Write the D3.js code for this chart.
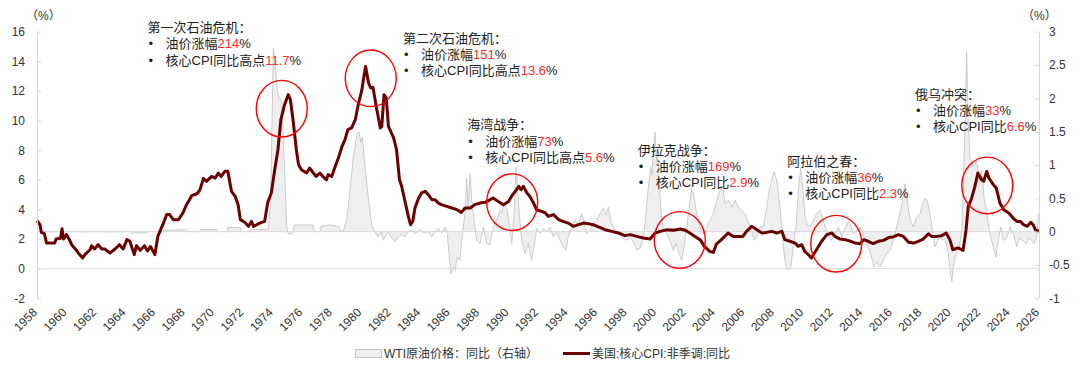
<!DOCTYPE html>
<html><head><meta charset="utf-8">
<script src="https://cdn.jsdelivr.net/npm/d3@7"></script>
<style>
body{margin:0;background:#fff;}
svg{display:block;font-family:"Liberation Sans",Arial,"Noto Sans CJK SC",sans-serif;}
</style></head><body>
<svg id="chart" width="1080" height="369"></svg>
<script>
// ---------------- data ----------------
const xTickYears = d3.range(1958, 2027, 2);
const leftTicks = [-2, 0, 2, 4, 6, 8, 10, 12, 14, 16];
const rightTicks = [-1, -0.5, 0, 0.5, 1, 1.5, 2, 2.5, 3];

// 美国:核心CPI:非季调:同比 (%), [year, value]
const coreCPI = [
[1958.0,3.24],[1958.2,2.97],[1958.3,2.45],[1958.5,2.36],[1958.65,1.73],[1959.2,1.73],[1959.3,2.0],[1959.6,2.05],[1959.7,2.7],[1959.8,2.0],
[1960.0,2.3],[1960.2,1.96],[1960.35,1.62],[1960.6,1.33],[1960.8,1.06],[1961.1,0.72],[1961.25,0.95],[1961.6,1.28],[1961.7,1.55],[1961.9,1.33],
[1962.15,1.62],[1962.4,1.33],[1962.6,1.33],[1962.95,1.06],[1963.3,1.33],[1963.6,1.62],[1963.85,1.33],[1964.1,1.96],[1964.3,1.85],[1964.6,0.95],
[1964.75,1.55],[1965.0,1.24],[1965.3,1.55],[1965.5,1.2],[1965.7,1.5],[1966.0,0.95],[1966.2,2.18],[1966.6,3.13],[1966.8,3.65],[1967.0,3.65],
[1967.25,3.31],[1967.6,3.31],[1967.9,3.76],[1968.15,4.32],[1968.5,4.93],[1968.85,5.06],[1969.05,5.3],[1969.3,6.1],[1969.5,5.9],[1969.85,6.23],
[1970.1,6.12],[1970.3,6.46],[1970.5,6.23],[1970.75,6.57],[1970.95,6.57],[1971.2,5.22],[1971.45,4.88],[1971.65,4.32],[1971.8,3.31],[1972.1,3.13],
[1972.35,2.86],[1972.55,3.19],[1972.7,2.86],[1973.0,3.02],[1973.25,3.13],[1973.45,3.19],[1973.65,4.43],[1973.9,5.11],[1974.1,6.46],[1974.35,8.03],
[1974.55,10.06],[1974.8,11.07],[1975.05,11.75],[1975.2,11.4],[1975.4,9.84],[1975.6,8.03],[1975.75,7.02],[1975.95,6.68],[1976.3,6.46],[1976.5,6.8],
[1976.75,6.46],[1976.95,6.23],[1977.2,6.46],[1977.4,6.23],[1977.65,6.0],[1977.75,6.35],[1978.0,6.23],[1978.2,6.8],[1978.45,7.47],[1978.7,8.26],
[1978.9,8.71],[1979.1,9.39],[1979.35,9.5],[1979.6,10.06],[1979.8,11.07],[1980.05,12.09],[1980.15,12.76],[1980.3,13.66],[1980.5,12.54],[1980.65,12.2],
[1980.8,12.25],[1981.05,10.8],[1981.3,9.5],[1981.4,9.61],[1981.55,11.75],[1981.7,11.53],[1981.85,9.61],[1982.2,8.83],[1982.4,8.03],[1982.6,6.0],
[1982.75,5.56],[1983.0,4.43],[1983.2,3.53],[1983.35,2.97],[1983.5,3.19],[1983.65,4.1],[1983.9,4.77],[1984.1,5.11],[1984.35,5.22],[1984.55,5.0],
[1984.8,4.66],[1985.0,4.66],[1985.25,4.43],[1985.45,4.32],[1985.8,4.21],[1986.15,4.1],[1986.5,3.98],[1986.8,3.8],[1987.05,4.1],[1987.4,4.1],
[1987.7,4.32],[1988.05,4.43],[1988.4,4.48],[1988.75,4.66],[1988.95,4.77],[1989.3,4.54],[1989.65,4.32],[1990.0,4.54],[1990.2,4.88],[1990.45,5.22],
[1990.7,5.56],[1990.85,5.33],[1991.0,5.56],[1991.25,5.11],[1991.45,4.88],[1991.7,4.43],[1991.9,3.98],[1992.25,3.87],[1992.5,3.76],[1992.7,3.53],
[1993.05,3.65],[1993.4,3.31],[1993.7,3.19],[1994.05,3.08],[1994.4,2.86],[1994.75,2.97],[1995.1,3.08],[1995.4,3.04],[1995.75,2.97],[1996.1,2.82],
[1996.55,2.63],[1997.0,2.52],[1997.45,2.41],[1997.9,2.23],[1998.25,2.3],[1998.7,2.18],[1999.15,2.07],[1999.6,2.0],[1999.95,2.41],[2000.3,2.52],
[2000.75,2.63],[2001.2,2.59],[2001.65,2.68],[2002.0,2.59],[2002.3,2.41],[2002.65,2.18],[2003.0,1.96],[2003.3,1.51],[2003.65,1.17],[2003.9,1.1],
[2004.1,1.65],[2004.45,1.96],[2004.9,2.41],[2005.25,2.18],[2005.6,2.18],[2005.9,2.18],[2006.15,2.52],[2006.5,2.86],[2006.85,2.63],[2007.2,2.41],
[2007.5,2.45],[2007.85,2.52],[2008.2,2.41],[2008.55,2.52],[2008.75,1.96],[2009.1,1.85],[2009.45,1.73],[2009.65,1.51],[2009.9,1.62],[2010.1,1.17],
[2010.35,0.95],[2010.55,0.72],[2010.9,1.28],[2011.25,1.85],[2011.6,2.3],[2011.95,2.41],[2012.15,2.18],[2012.5,2.0],[2012.85,1.96],[2013.2,1.85],
[2013.55,1.73],[2013.85,1.69],[2014.1,1.96],[2014.4,1.85],[2014.75,1.69],[2015.1,1.85],[2015.45,1.91],[2015.8,2.1],[2016.1,2.14],[2016.45,2.3],
[2016.8,2.18],[2017.15,1.78],[2017.5,1.73],[2017.8,1.85],[2018.15,2.0],[2018.5,2.36],[2018.7,2.18],[2019.05,2.18],[2019.4,2.23],[2019.7,2.41],
[2019.95,1.96],[2020.15,1.28],[2020.5,1.4],[2020.85,1.24],[2021.05,2.63],[2021.2,4.21],[2021.4,4.66],[2021.65,5.56],[2021.85,6.46],[2022.1,6.0],
[2022.25,5.9],[2022.45,6.57],[2022.6,6.12],[2022.9,5.67],[2023.1,5.45],[2023.35,4.43],[2023.6,3.98],[2023.95,3.76],[2024.3,3.36],[2024.5,3.19],
[2024.75,3.19],[2024.95,2.97],[2025.2,2.86],[2025.45,3.13],[2025.6,2.97],[2025.75,2.63],[2026.0,2.52]
];

// WTI原油价格：同比（右轴）, [year, value]
const wtiYoY = [
[1958.0,0],[1964.42,0],[1964.43,-0.02],[1965.44,-0.02],[1965.45,0],[1966.55,0],[1966.6,0.02],[1968.15,0.03],[1968.2,0],[1969.05,0],
[1969.1,0.03],[1970.2,0.03],[1970.25,0],[1970.9,0],[1970.95,0.06],[1971.8,0.06],[1971.85,0],[1972.45,0],[1972.5,0.03],[1973.6,0.03],
[1973.7,0.05],[1973.86,0.47],[1973.93,1.37],[1974.04,2.75],[1974.22,2.37],[1974.31,2.12],[1974.44,1.99],[1974.61,1.97],[1974.72,1.37],[1974.83,0.77],
[1974.95,0.07],[1975.05,-0.03],[1975.37,-0.03],[1975.45,0.1],[1976.73,0.1],[1976.8,0],[1977.2,0],[1977.28,0.08],[1977.9,0.1],[1978.5,0.08],
[1978.56,0],[1978.79,0.02],[1979.02,0.17],[1979.24,0.62],[1979.47,1.12],[1979.7,1.44],[1979.87,1.49],[1979.97,1.34],[1980.08,1.42],[1980.26,0.97],
[1980.48,0.52],[1980.71,0.1],[1980.94,0],[1981.16,-0.08],[1981.35,0],[1981.5,-0.13],[1981.84,0],[1982.07,-0.1],[1982.3,-0.15],[1982.52,-0.08],
[1982.75,-0.04],[1982.97,-0.08],[1983.2,0],[1983.43,0.02],[1983.65,-0.03],[1983.99,0.03],[1984.22,-0.02],[1984.56,0],[1984.79,-0.08],[1985.01,0],
[1985.23,0.05],[1985.47,-0.02],[1985.69,0.07],[1985.85,-0.03],[1985.98,-0.38],[1986.1,-0.63],[1986.25,-0.53],[1986.37,-0.58],[1986.52,-0.38],[1986.71,-0.43],
[1986.82,-0.13],[1987.05,0.27],[1987.16,0.8],[1987.27,0.37],[1987.39,0.87],[1987.5,0.47],[1987.66,0.17],[1987.84,-0.13],[1988.06,-0.18],[1988.29,0.07],
[1988.52,-0.18],[1988.74,-0.2],[1988.97,0.07],[1989.2,0.17],[1989.42,0.32],[1989.54,0.27],[1989.69,0.42],[1989.88,0.35],[1990.05,0.12],[1990.22,-0.18],
[1990.37,0.22],[1990.51,0.97],[1990.62,0.62],[1990.73,0.27],[1990.89,-0.13],[1991.12,-0.33],[1991.34,-0.18],[1991.57,-0.43],[1991.73,-0.23],[1991.91,0.05],
[1992.14,-0.03],[1992.36,0.05],[1992.59,0],[1992.81,0.07],[1993.04,-0.08],[1993.27,0],[1993.49,-0.13],[1993.72,-0.23],[1993.9,-0.28],[1994.06,-0.07],
[1994.29,0.07],[1994.51,0.17],[1994.74,0.1],[1994.97,0.27],[1995.12,0.15],[1995.31,-0.03],[1995.53,0.02],[1995.75,0.12],[1995.98,0.17],[1996.21,0.27],
[1996.43,0.35],[1996.62,0.25],[1996.77,0.37],[1996.93,0.17],[1997.11,0.07],[1997.34,-0.03],[1997.57,-0.05],[1997.79,-0.1],[1998.02,-0.13],[1998.25,-0.08],
[1998.47,-0.15],[1998.7,-0.28],[1998.92,-0.25],[1999.15,-0.1],[1999.33,0.27],[1999.49,0.67],[1999.65,0.97],[1999.75,0.85],[1999.83,1.22],[1999.94,1.49],
[2000.06,1.07],[2000.12,1.2],[2000.17,0.77],[2000.28,0.52],[2000.4,0.17],[2000.55,0.02],[2000.73,-0.03],[2000.96,-0.13],[2001.18,-0.28],[2001.37,-0.18],
[2001.59,-0.33],[2001.75,-0.43],[2001.91,-0.23],[2002.09,0.07],[2002.27,0.37],[2002.43,0.65],[2002.59,0.52],[2002.77,0.27],[2002.99,0.07],[2003.22,-0.03],
[2003.45,0.07],[2003.68,0.17],[2003.9,0.27],[2004.13,0.47],[2004.35,0.62],[2004.54,0.67],[2004.69,0.42],[2004.92,0.47],[2005.15,0.37],[2005.37,0.47],
[2005.6,0.37],[2005.82,0.32],[2006.05,0.27],[2006.27,0.15],[2006.5,0],[2006.68,-0.13],[2006.84,-0.08],[2007.07,0.07],[2007.29,0.07],[2007.52,0.37],
[2007.7,0.62],[2007.86,0.77],[2008.02,0.9],[2008.2,0.77],[2008.38,0.47],[2008.54,0.07],[2008.7,-0.33],[2008.83,-0.53],[2008.99,-0.58],[2009.15,-0.53],
[2009.33,-0.23],[2009.51,0.07],[2009.67,0.62],[2009.83,0.95],[2009.96,0.67],[2010.12,0.22],[2010.28,0.1],[2010.46,0.07],[2010.68,0.17],[2010.91,0.27],
[2011.14,0.32],[2011.32,0.22],[2011.48,0.07],[2011.7,-0.08],[2011.93,-0.13],[2012.16,-0.03],[2012.38,0.07],[2012.61,-0.08],[2012.84,0.05],[2013.06,0.15],
[2013.22,0.1],[2013.4,-0.03],[2013.63,0.02],[2013.85,0.07],[2014.03,0],[2014.19,-0.13],[2014.41,-0.23],[2014.64,-0.38],[2014.8,-0.53],[2014.98,-0.45],
[2015.21,-0.53],[2015.43,-0.43],[2015.66,-0.33],[2015.89,-0.28],[2016.11,-0.13],[2016.34,0.07],[2016.57,0.27],[2016.79,0.52],[2016.91,0.72],[2017.02,0.52],
[2017.25,0.17],[2017.47,0.07],[2017.7,0.22],[2017.93,0.27],[2018.11,0.42],[2018.26,0.5],[2018.42,0.47],[2018.6,0.27],[2018.79,-0.03],[2018.94,-0.23],
[2019.1,-0.15],[2019.28,-0.08],[2019.47,-0.13],[2019.62,-0.1],[2019.84,-0.33],[2020.0,-0.63],[2020.09,-0.75],[2020.18,-0.53],[2020.36,-0.33],[2020.59,-0.23],
[2020.75,-0.03],[2020.86,0.62],[2020.98,1.62],[2021.09,2.69],[2021.2,1.62],[2021.32,1.12],[2021.54,0.97],[2021.77,1.07],[2021.95,0.72],[2022.11,0.92],
[2022.27,0.52],[2022.45,0.27],[2022.67,-0.03],[2022.9,-0.23],[2023.08,-0.38],[2023.24,-0.13],[2023.4,0.07],[2023.58,-0.13],[2023.81,-0.1],[2024.03,0.07],
[2024.26,-0.03],[2024.49,-0.23],[2024.67,-0.1],[2024.9,-0.13],[2025.12,-0.18],[2025.28,-0.1],[2025.51,-0.13],[2025.66,-0.18],[2025.85,-0.08],[2025.96,0.27]
];

// event annotations: circle centre in data units (year, core CPI), text block position
const eventTitles = ["第一次石油危机：","第二次石油危机：","海湾战争：","伊拉克战争：","阿拉伯之春：","俄乌冲突："];
const eventOil = ["214","151","73","169","36","33"];
const eventCpiLabel = ["核心CPI同比高点","核心CPI同比高点","核心CPI同比高点","核心CPI同比","核心CPI同比","核心CPI同比"];
const eventCpi = ["11.7","13.6","5.6","2.9","2.3","6.6"];
const eventCircleYear = [1974.61, 1980.65, 1990.25, 2001.62, 2012.24, 2022.49];
const eventCircleValue = [10.8, 12.85, 4.49, 1.94, 1.69, 5.62];
const eventTextPos = [[147.5,27.5],[403,38],[467.3,124.7],[637.7,150],[787.3,161],[915,94]];

// ---------------- chart ----------------
(function () {
const svg = d3.select("#chart");
const W = 1080, H = 369;
const plotLeft = 37, plotRight = 1039, plotTop = 31.7, plotBottom = 298.3;
const textColor = "#333";
const lineColor = "#6b0000";
const gridColor = "#d9d9d9";

svg.append("rect").attr("width", W).attr("height", H).attr("fill", "#fff");

const x = d3.scaleLinear().domain([1958, 2026]).range([plotLeft, plotRight]);
const yL = d3.scaleLinear().domain([-2, 16]).range([plotBottom, plotTop]);
const yR = d3.scaleLinear().domain([-1, 3]).range([plotBottom, plotTop]);

// area (WTI, right axis)
const area = d3.area().x(d => x(d[0])).y0(yR(0)).y1(d => yR(d[1]));
svg.append("path").datum(wtiYoY).attr("d", area)
  .attr("fill", "#efefef").attr("stroke", "none");
svg.append("path").datum(wtiYoY)
  .attr("d", d3.line().x(d => x(d[0])).y(d => yR(d[1])))
  .attr("fill", "none").attr("stroke", "#c6c6c6").attr("stroke-width", 0.9);

// zero grid lines
svg.append("line").attr("x1", plotLeft).attr("x2", plotRight).attr("y1", yL(0)).attr("y2", yL(0))
  .attr("stroke", gridColor).attr("stroke-width", 1);
svg.append("line").attr("x1", plotLeft).attr("x2", plotRight).attr("y1", yR(0)).attr("y2", yR(0))
  .attr("stroke", gridColor).attr("stroke-width", 1);

// core CPI line (left axis)
svg.append("path").datum(coreCPI)
  .attr("d", d3.line().x(d => x(d[0])).y(d => yL(d[1])))
  .attr("fill", "none").attr("stroke", lineColor).attr("stroke-width", 3)
  .attr("stroke-linejoin", "round");

// axes
function styleAxis(g) {
  g.attr("font-family", null).attr("font-size", null);
  g.select(".domain").attr("stroke", gridColor);
  g.selectAll(".tick line").attr("stroke", gridColor);
  g.selectAll(".tick text").attr("fill", textColor).style("font-size", "12px");
}
svg.append("g").attr("transform", `translate(${plotLeft},0)`)
  .call(d3.axisLeft(yL).tickValues(leftTicks).tickFormat(d => String(d))
        .tickSizeInner(-4).tickSizeOuter(0).tickPadding(12))
  .call(styleAxis);
svg.append("g").attr("transform", `translate(${plotRight},0)`)
  .call(d3.axisRight(yR).tickValues(rightTicks).tickFormat(d => String(d))
        .tickSizeInner(-4).tickSizeOuter(0).tickPadding(10))
  .call(styleAxis);

// x labels
svg.append("g").selectAll("text").data(xTickYears).join("text")
  .attr("transform", d => `translate(${x(d) + 1},313) rotate(-45)`)
  .attr("text-anchor", "end").attr("fill", textColor).style("font-size", "12px")
  .text(d => d);

// unit labels
svg.append("text").attr("x", 26).attr("y", 20).attr("fill", textColor).style("font-size", "12px").text("（%）");
svg.append("text").attr("x", 1022).attr("y", 20).attr("fill", textColor).style("font-size", "12px").text("（%）");

// circles
svg.append("g").selectAll("ellipse").data(eventCircleYear).join("ellipse")
  .attr("cx", d => x(d)).attr("cy", (d, i) => yL(eventCircleValue[i]))
  .attr("rx", 25.5).attr("ry", 28.3)
  .attr("fill", "none").attr("stroke", "#ff0000").attr("stroke-width", 1.4);

// annotation text
const red = "#ff2a2a";
eventTitles.forEach((t, i) => {
  const [tx, ty] = eventTextPos[i];
  const g = svg.append("g").style("font-size", "13px").attr("fill", "#222");
  g.append("text").attr("x", tx).attr("y", ty + 4.5).text(t);
  g.append("text").attr("x", tx + 1).attr("y", ty + 16.3 + 4.5).text("•");
  g.append("text").attr("x", tx + 1).attr("y", ty + 32.6 + 4.5).text("•");
  const l1 = g.append("text").attr("x", tx + 18).attr("y", ty + 16.3 + 4.5);
  l1.append("tspan").text("油价涨幅");
  l1.append("tspan").attr("fill", red).text(eventOil[i]);
  l1.append("tspan").text("%");
  const l2 = g.append("text").attr("x", tx + 18).attr("y", ty + 32.6 + 4.5);
  l2.append("tspan").text(eventCpiLabel[i]);
  l2.append("tspan").attr("fill", red).text(eventCpi[i]);
  l2.append("tspan").text("%");
});

// legend
const lg = svg.append("g").style("font-size", "12px").attr("fill", textColor);
lg.append("rect").attr("x", 355.5).attr("y", 349.5).attr("width", 26).attr("height", 8)
  .attr("fill", "#efefef").attr("stroke", "#c6c6c6");
lg.append("text").attr("x", 384).attr("y", 357.5).text("WTI原油价格：同比（右轴）");
lg.append("line").attr("x1", 563).attr("x2", 590).attr("y1", 353.5).attr("y2", 353.5)
  .attr("stroke", lineColor).attr("stroke-width", 3);
lg.append("text").attr("x", 592).attr("y", 357.5).text("美国:核心CPI:非季调:同比");
})();
</script>
</body></html>
